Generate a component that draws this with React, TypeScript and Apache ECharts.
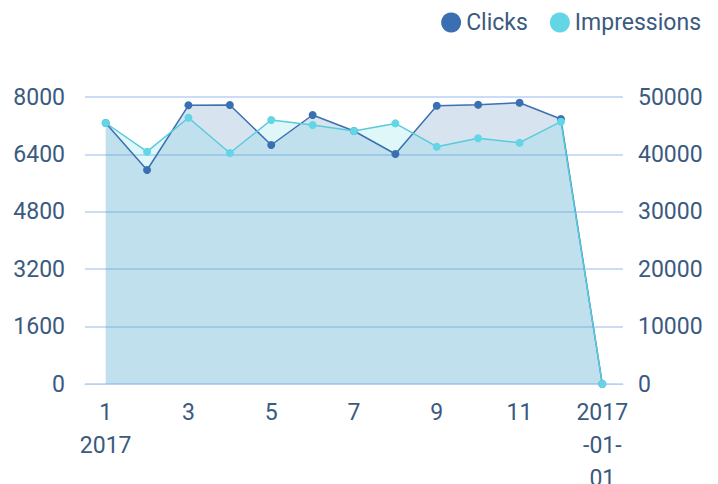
import React, { useEffect, useRef } from "react";
import * as echarts from "echarts";

const categories = ["1\n2017", "2", "3", "4", "5", "6", "7", "8", "9", "10", "11", "12", "2017\n-01-\n01"];
const clicks = [7275, 5965, 7768, 7777, 6662, 7498, 7052, 6411, 7757, 7786, 7841, 7387, 0];
const impressions = [45470, 40470, 46390, 40240, 45990, 45120, 44080, 45400, 41340, 42800, 42040, 45700, 0];
const leftTicks = { min: 0, max: 8000, interval: 1600 };
const rightTicks = { min: 0, max: 50000, interval: 10000 };

const TEXT = "#3b5a80";
const LINE = "#b9d2f2";
const FONT = "Roboto";

export default function App() {
  const ref = useRef<HTMLDivElement>(null);
  useEffect(() => {
    if (!ref.current) return;
    const chart = echarts.init(ref.current, null, { renderer: "svg" });
    chart.setOption({
      animation: false,
      textStyle: { fontFamily: FONT },
      legend: {
        top: 6,
        right: 12,
        icon: "circle",
        itemWidth: 20,
        itemHeight: 20,
        itemGap: 22,
        textStyle: { color: TEXT, fontSize: 23, fontFamily: FONT },
        data: ["Clicks", "Impressions"],
      },
      grid: { left: 85, right: 95, top: 97, bottom: 100, containLabel: false, outerBoundsMode: "none" },
      xAxis: {
        type: "category",
        data: categories,
        boundaryGap: true,
        axisLine: { lineStyle: { color: LINE, width: 1 } },
        axisTick: { alignWithLabel: true, interval: 0, length: 10, lineStyle: { color: LINE, width: 2 } },
        axisLabel: {
          interval: 1,
          color: TEXT,
          fontSize: 23,
          fontFamily: FONT,
          lineHeight: 33,
          margin: 12,
        },
      },
      yAxis: [
        {
          type: "value",
          ...leftTicks,
          axisLine: { show: false },
          axisTick: { show: false },
          splitLine: { lineStyle: { color: LINE, width: 1.5 } },
          axisLabel: { color: TEXT, fontSize: 23, fontFamily: FONT, margin: 20, formatter: (v: number) => String(v) },
        },
        {
          type: "value",
          ...rightTicks,
          axisLine: { show: false },
          axisTick: { show: false },
          splitLine: { show: false },
          axisLabel: { color: TEXT, fontSize: 23, fontFamily: FONT, margin: 15, formatter: (v: number) => String(v) },
        },
      ],
      series: [
        {
          name: "Clicks",
          type: "line",
          yAxisIndex: 0,
          data: clicks,
          symbol: "circle",
          symbolSize: 8,
          itemStyle: { color: "#3a70b2" },
          lineStyle: { color: "#3a70b2", width: 1.5 },
          areaStyle: { color: "#3c74b6", opacity: 0.2 },
        },
        {
          name: "Impressions",
          type: "line",
          yAxisIndex: 1,
          data: impressions,
          symbol: "circle",
          symbolSize: 8,
          itemStyle: { color: "#62d6e4" },
          lineStyle: { color: "#58cbdb", width: 1.5 },
          areaStyle: { color: "#62d6e4", opacity: 0.2 },
        },
      ],
    });
    return () => chart.dispose();
  }, []);
  return <div ref={ref} style={{ width: 718, height: 484, position: "absolute", left: 0, top: 0 }} />;
}
